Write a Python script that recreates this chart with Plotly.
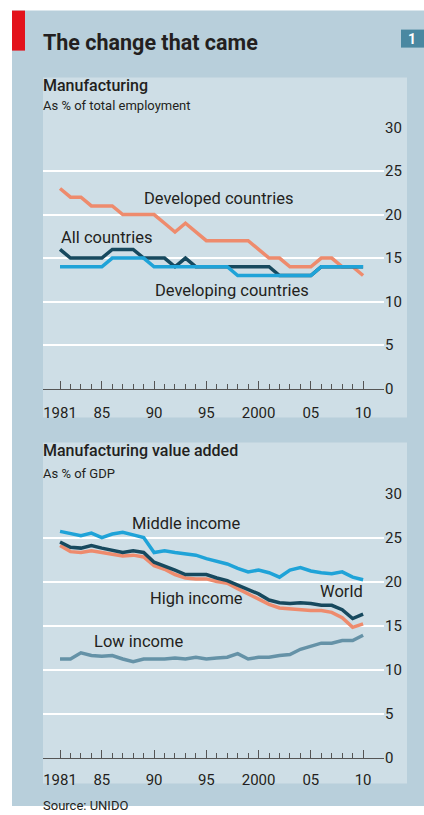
import plotly.graph_objects as go

W, H = 424, 815

# the returned photo comes back shifted down ~8px and squeezed ~2% vertically;
# vertical positions below are reference pixels, mapped through this correction
SHIFT, SQUEEZE = 8.4, 0.978

years = list(range(1981, 2011))

# Manufacturing employment, % of total employment
developed = [23, 22, 22, 21, 21, 21, 20, 20, 20, 20, 19, 18, 19, 18, 17,
             17, 17, 17, 17, 16, 15, 15, 14, 14, 14, 15, 15, 14, 14, 13]
all_countries = [16, 15, 15, 15, 15, 16, 16, 16, 15, 15, 15, 14, 15, 14, 14,
                 14, 14, 14, 14, 14, 14, 13, 13, 13, 13, 14, 14, 14, 14, 14]
developing = [14, 14, 14, 14, 14, 15, 15, 15, 15, 14, 14, 14, 14, 14, 14,
              14, 14, 13, 13, 13, 13, 13, 13, 13, 13, 14, 14, 14, 14, 14]

# Manufacturing value added, % of GDP
middle_income = [25.7, 25.5, 25.2, 25.5, 25.0, 25.4, 25.6, 25.3, 25.0, 23.3,
                 23.5, 23.3, 23.1, 23.0, 22.6, 22.3, 22.0, 21.5, 21.1, 21.3,
                 21.0, 20.5, 21.3, 21.6, 21.2, 21.0, 20.9, 21.1, 20.5, 20.2]
world = [24.5, 23.9, 23.8, 24.1, 23.8, 23.6, 23.3, 23.5, 23.3, 22.2,
         21.8, 21.3, 20.8, 20.8, 20.8, 20.4, 20.1, 19.6, 19.1, 18.6,
         17.9, 17.6, 17.5, 17.6, 17.5, 17.3, 17.3, 16.8, 15.8, 16.3]
high_income = [24.1, 23.4, 23.3, 23.5, 23.3, 23.1, 22.9, 23.0, 22.8, 21.8,
               21.4, 20.8, 20.4, 20.3, 20.3, 20.0, 19.8, 19.2, 18.6, 18.1,
               17.4, 17.0, 16.9, 16.8, 16.7, 16.7, 16.5, 15.9, 14.8, 15.2]
low_income = [11.2, 11.2, 11.9, 11.6, 11.5, 11.6, 11.2, 10.9, 11.2, 11.2,
              11.2, 11.3, 11.2, 11.4, 11.2, 11.3, 11.4, 11.8, 11.2, 11.4,
              11.4, 11.6, 11.7, 12.3, 12.6, 13.0, 13.0, 13.3, 13.3, 13.9]

tick_years = [1981, 1985, 1990, 1995, 2000, 2005, 2010]
tick_text = ['1981', '85', '90', '95', '2000', '05', '10']
y_ticks = [0, 5, 10, 15, 20, 25, 30]

PINK = '#ee8b6d'
DARK = '#17495e'
LIGHT = '#1fa3d8'
GREYBLUE = '#6592a7'
OUTER = '#b8cfdb'
PANEL = '#cedee6'
INK = '#231f20'
FONT = 'Roboto'


def px(x):
    return x / W


def py(y):
    return 1 - ((y - SHIFT) / SQUEEZE) / H


fig = go.Figure()

# top panel
fig.add_trace(go.Scatter(x=years, y=developed, mode='lines', line=dict(color=PINK, width=3.5),
                         xaxis='x', yaxis='y'))
fig.add_trace(go.Scatter(x=years, y=all_countries, mode='lines', line=dict(color=DARK, width=3.5),
                         xaxis='x', yaxis='y'))
fig.add_trace(go.Scatter(x=years, y=developing, mode='lines', line=dict(color=LIGHT, width=3.5),
                         xaxis='x', yaxis='y'))

# bottom panel
fig.add_trace(go.Scatter(x=years, y=low_income, mode='lines', line=dict(color=GREYBLUE, width=3.5),
                         xaxis='x2', yaxis='y2'))
fig.add_trace(go.Scatter(x=years, y=high_income, mode='lines', line=dict(color=PINK, width=3.5),
                         xaxis='x2', yaxis='y2'))
fig.add_trace(go.Scatter(x=years, y=world, mode='lines', line=dict(color=DARK, width=3.5),
                         xaxis='x2', yaxis='y2'))
fig.add_trace(go.Scatter(x=years, y=middle_income, mode='lines', line=dict(color=LIGHT, width=3.5),
                         xaxis='x2', yaxis='y2'))


def xaxis_cfg(anchor, standoff):
    return dict(
        anchor=anchor, domain=[px(43), px(384)], range=[1979.37, 2012.0],
        tickmode='array', tickvals=tick_years, ticktext=tick_text,
        ticks='inside', ticklen=8, tickwidth=1, tickcolor='#555',
        minor=dict(tickmode='array', tickvals=years, ticks='inside', ticklen=5,
                   tickwidth=1, tickcolor='#555'),
        showline=True, linecolor='#555', linewidth=1,
        showgrid=False, zeroline=False, fixedrange=True,
        tickfont=dict(family=FONT, size=15, color=INK),
        ticklabelstandoff=standoff,
    )


def yaxis_cfg(anchor, top, bottom):
    return dict(
        anchor=anchor, domain=[py(bottom), py(top)], range=[0, 30], side='right',
        tickmode='array', tickvals=y_ticks, ticks='',
        showgrid=True, gridcolor='white', gridwidth=2,
        zeroline=False, showline=False, fixedrange=True,
        tickfont=dict(family=FONT, size=15, color=INK),
    )


shapes = [
    dict(type='rect', xref='paper', yref='paper', x0=px(12), x1=1, y0=0, y1=py(10),
         fillcolor=OUTER, line=dict(width=0), layer='below'),
    dict(type='rect', xref='paper', yref='paper', x0=px(43), x1=px(407), y0=py(417), y1=py(77),
         fillcolor=PANEL, line=dict(width=0), layer='below'),
    dict(type='rect', xref='paper', yref='paper', x0=px(43), x1=px(407), y0=py(783), y1=py(442),
         fillcolor=PANEL, line=dict(width=0), layer='below'),
    # red tag
    dict(type='rect', xref='paper', yref='paper', x0=px(12), x1=px(25), y0=py(50), y1=py(10),
         fillcolor='#e3121b', line=dict(width=0), layer='below'),
    # chart number box
    dict(type='rect', xref='paper', yref='paper', x0=px(401), x1=1, y0=py(47), y1=py(29),
         fillcolor='#4a88a1', line=dict(width=0), layer='below'),
]


def note(text, x, y, size=16, xanchor='center', color=INK, weight=None):
    f = dict(family=FONT, size=size, color=color)
    if weight:
        f['weight'] = weight
    return dict(text=text, x=px(x), y=py(y), xref='paper', yref='paper', showarrow=False,
                xanchor=xanchor, yanchor='middle', font=f)


annotations = [
    note('The change that came', 41, 42, size=21.5, xanchor='left', weight='bold'),
    note('1', 412, 38, size=14, color='white', weight='bold'),
    note('Manufacturing', 41, 85, size=16, xanchor='left', weight=500),
    note('As % of total employment', 41, 105, size=13, xanchor='left'),
    note('Developed countries', 218, 198, size=16.5),
    note('All countries', 106, 237, size=16.5),
    note('Developing countries', 232, 290, size=16.5),
    note('Manufacturing value added', 41, 450, size=16, xanchor='left', weight=500),
    note('As % of GDP', 41, 473, size=13, xanchor='left'),
    note('Middle income', 186, 523, size=16.5),
    note('High income', 196, 598, size=16.5),
    note('World', 341, 591, size=16.5),
    note('Low income', 138, 641, size=16.5),
    note('Source: UNIDO', 41, 805, size=13, xanchor='left'),
]

fig.update_layout(
    width=W, height=H,
    margin=dict(l=0, r=0, t=0, b=0),
    paper_bgcolor='white', plot_bgcolor='rgba(0,0,0,0)',
    showlegend=False,
    xaxis=xaxis_cfg('y', 10),
    yaxis=yaxis_cfg('x', 127, 388),
    xaxis2=xaxis_cfg('y2', 8),
    yaxis2=yaxis_cfg('x2', 493, 757),
    shapes=shapes,
    annotations=annotations,
    font=dict(family=FONT, color=INK),
    hovermode=False,
)

# no body margin; any page area past the figure keeps the outer frame colours
page_css = (
    "document.body.style.margin='0';"
    "document.body.style.overflow='hidden';"
    "document.documentElement.style.background="
    "'linear-gradient(to right, white 12px, transparent 12px),"
    " linear-gradient(to bottom, white 50%, " + OUTER + " 50%)';"
)
fig.write_html("out.html", config={'displayModeBar': False}, post_script=page_css)
